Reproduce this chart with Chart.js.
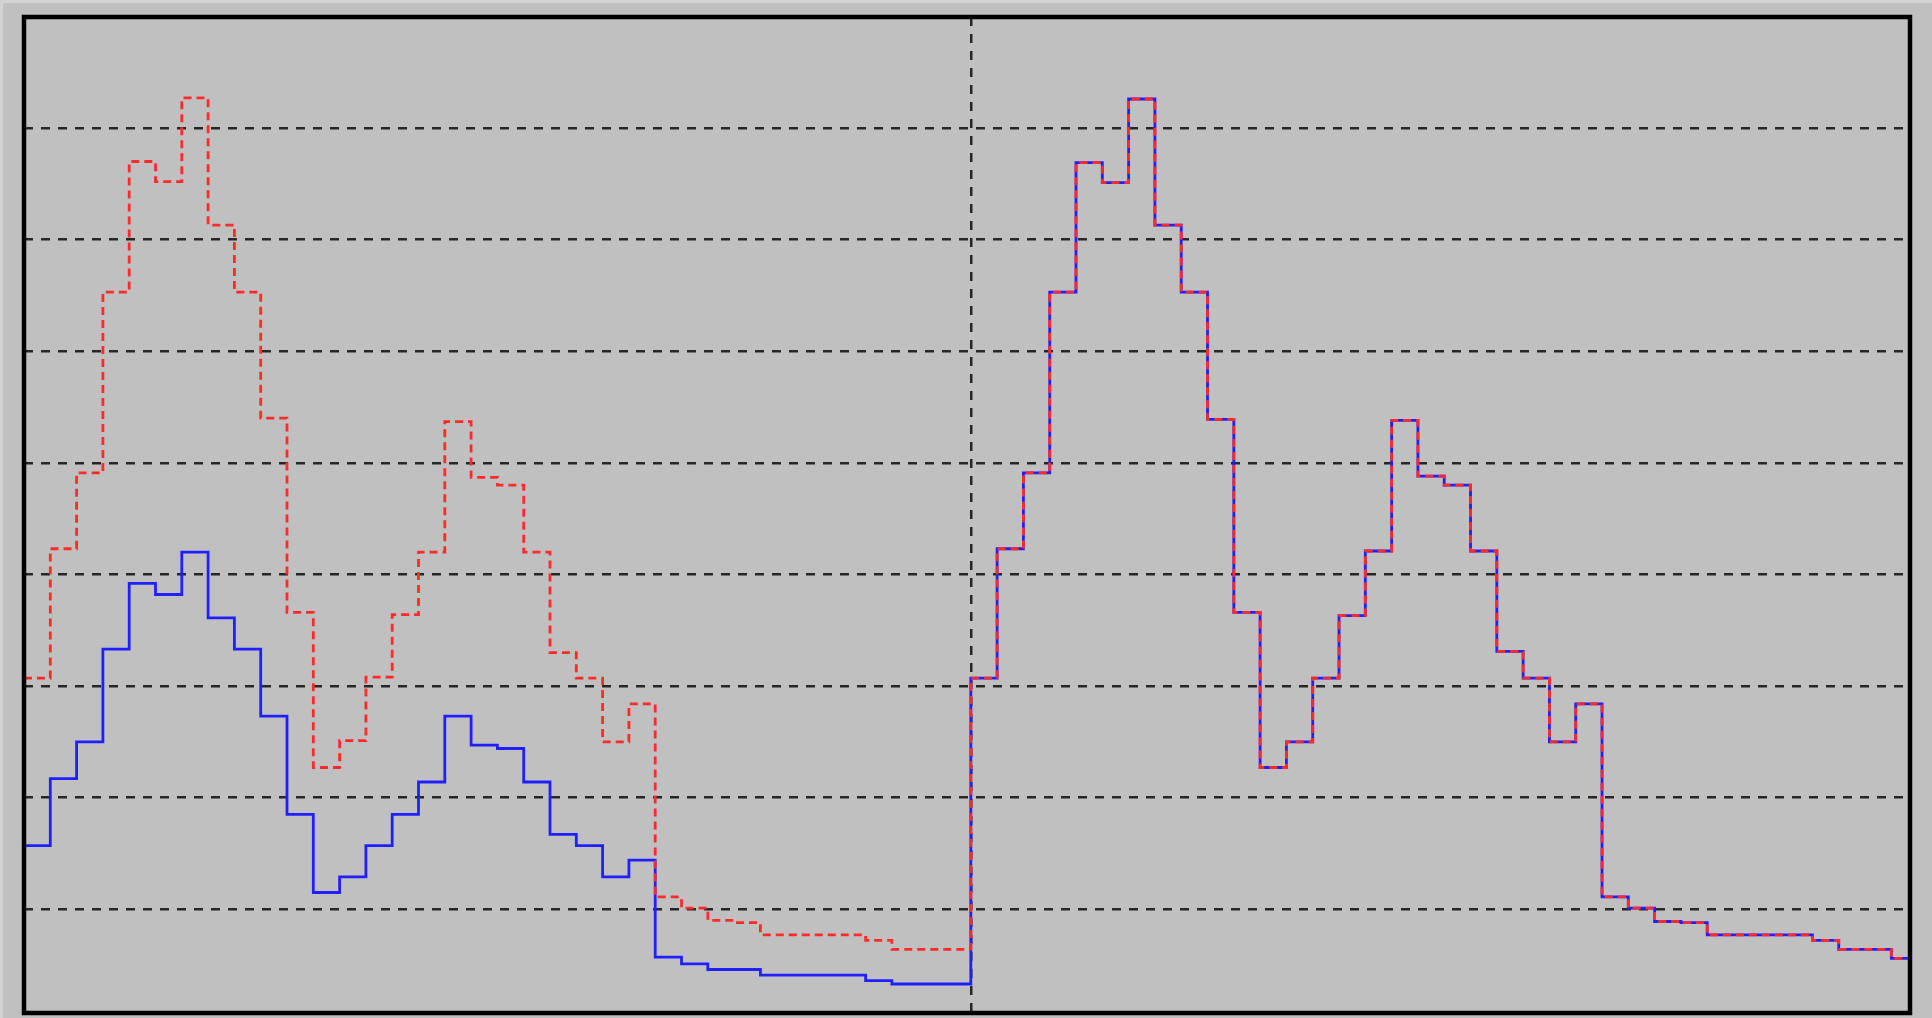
<!DOCTYPE html>
<html>
<head>
<meta charset="utf-8">
<title>Step histogram</title>
<script src="https://cdn.jsdelivr.net/npm/chart.js@4.4.1/dist/chart.umd.min.js"></script>
<style>
  html, body { margin: 0; padding: 0; background: #c0c0c0; }
  #wrap { position: relative; width: 1932px; height: 1018px; }
</style>
</head>
<body>
<div id="wrap"><canvas id="chart"></canvas></div>
<script>
// bin heights, left half (bins 0-35)
const blueLeft = [
  1.50, 2.10, 2.43, 3.26, 3.85, 3.75, 4.13, 3.54, 3.26, 2.66, 1.78, 1.08,
  1.22, 1.50, 1.78, 2.07, 2.66, 2.40, 2.37, 2.07, 1.60, 1.50, 1.22, 1.37,
  0.50, 0.44, 0.39, 0.39, 0.34, 0.34, 0.34, 0.34, 0.29, 0.26, 0.26, 0.26
];
const redLeft = [
  3.00, 4.16, 4.84, 6.46, 7.63, 7.45, 8.20, 7.06, 6.46, 5.33, 3.59, 2.20,
  2.44, 3.01, 3.57, 4.13, 5.30, 4.80, 4.73, 4.13, 3.23, 3.00, 2.43, 2.77,
  1.04, 0.94, 0.83, 0.81, 0.70, 0.70, 0.70, 0.70, 0.65, 0.57, 0.57, 0.57
];
// right half (bins 36-71), shared by both series
const bothRight = [
  3.00, 4.16, 4.84, 6.46, 7.62, 7.44, 8.19, 7.06, 6.46, 5.32, 3.59, 2.20,
  2.43, 3.00, 3.56, 4.14, 5.31, 4.81, 4.73, 4.14, 3.24, 3.00, 2.43, 2.77,
  1.04, 0.94, 0.82, 0.81, 0.70, 0.70, 0.70, 0.70, 0.65, 0.57, 0.57, 0.49
];

const yGridLevels = [0.93, 1.93, 2.93, 3.93, 4.93, 5.93, 6.93, 7.93];
const xDividers = [36];
const xMax = 71.71;
const yMax = 8.925;

// left edge of every bin, plus the closing edge of the last one
function toSteps(values) {
  const pts = values.map((v, i) => ({ x: i, y: v }));
  pts.push({ x: values.length, y: values[values.length - 1] });
  return pts;
}

const blueSeries = toSteps(blueLeft.concat(bothRight));
const redSeries = toSteps(redLeft.concat(bothRight));

const frame = {
  id: "frame",
  beforeDraw(chart) {
    const { ctx, width, height } = chart;
    ctx.save();
    ctx.fillStyle = "#c0c0c0";
    ctx.fillRect(0, 0, width, height);
    ctx.fillStyle = "#d2d2d2";
    ctx.fillRect(0, 0, width, 3);
    ctx.fillRect(0, 0, 3, height);
    ctx.restore();
  },
  afterDraw(chart) {
    const { ctx, chartArea: a } = chart;
    ctx.save();
    ctx.strokeStyle = "#000";
    ctx.lineWidth = 4.5;
    ctx.strokeRect(a.left, a.top, a.right - a.left, a.bottom - a.top);
    ctx.restore();
  }
};

const gridStyle = {
  grid: { color: "#262626", lineWidth: 2.5, drawTicks: false },
  border: { display: false, dash: [9, 8] },
  ticks: { display: false }
};

new Chart(document.getElementById("chart"), {
  type: "line",
  data: {
    datasets: [
      {
        data: redSeries,
        borderColor: "#ff2a2a",
        borderWidth: 2.8,
        borderDash: [8, 5],
        stepped: "before",
        pointRadius: 0,
        order: 0
      },
      {
        data: blueSeries,
        borderColor: "#2020ff",
        borderWidth: 2.8,
        stepped: "before",
        pointRadius: 0,
        order: 1
      }
    ]
  },
  options: {
    responsive: true,
    maintainAspectRatio: false,
    animation: false,
    layout: { padding: { left: 24, top: 17, right: 22, bottom: 5 } },
    plugins: {
      legend: { display: false },
      tooltip: { enabled: false }
    },
    scales: {
      x: {
        type: "linear",
        min: 0,
        max: xMax,
        afterBuildTicks: (axis) => {
          axis.ticks = xDividers.map((v) => ({ value: v }));
        },
        ...gridStyle
      },
      y: {
        type: "linear",
        min: 0,
        max: yMax,
        afterBuildTicks: (axis) => {
          axis.ticks = yGridLevels.map((v) => ({ value: v }));
        },
        ...gridStyle
      }
    }
  },
  plugins: [frame]
});
</script>
</body>
</html>
